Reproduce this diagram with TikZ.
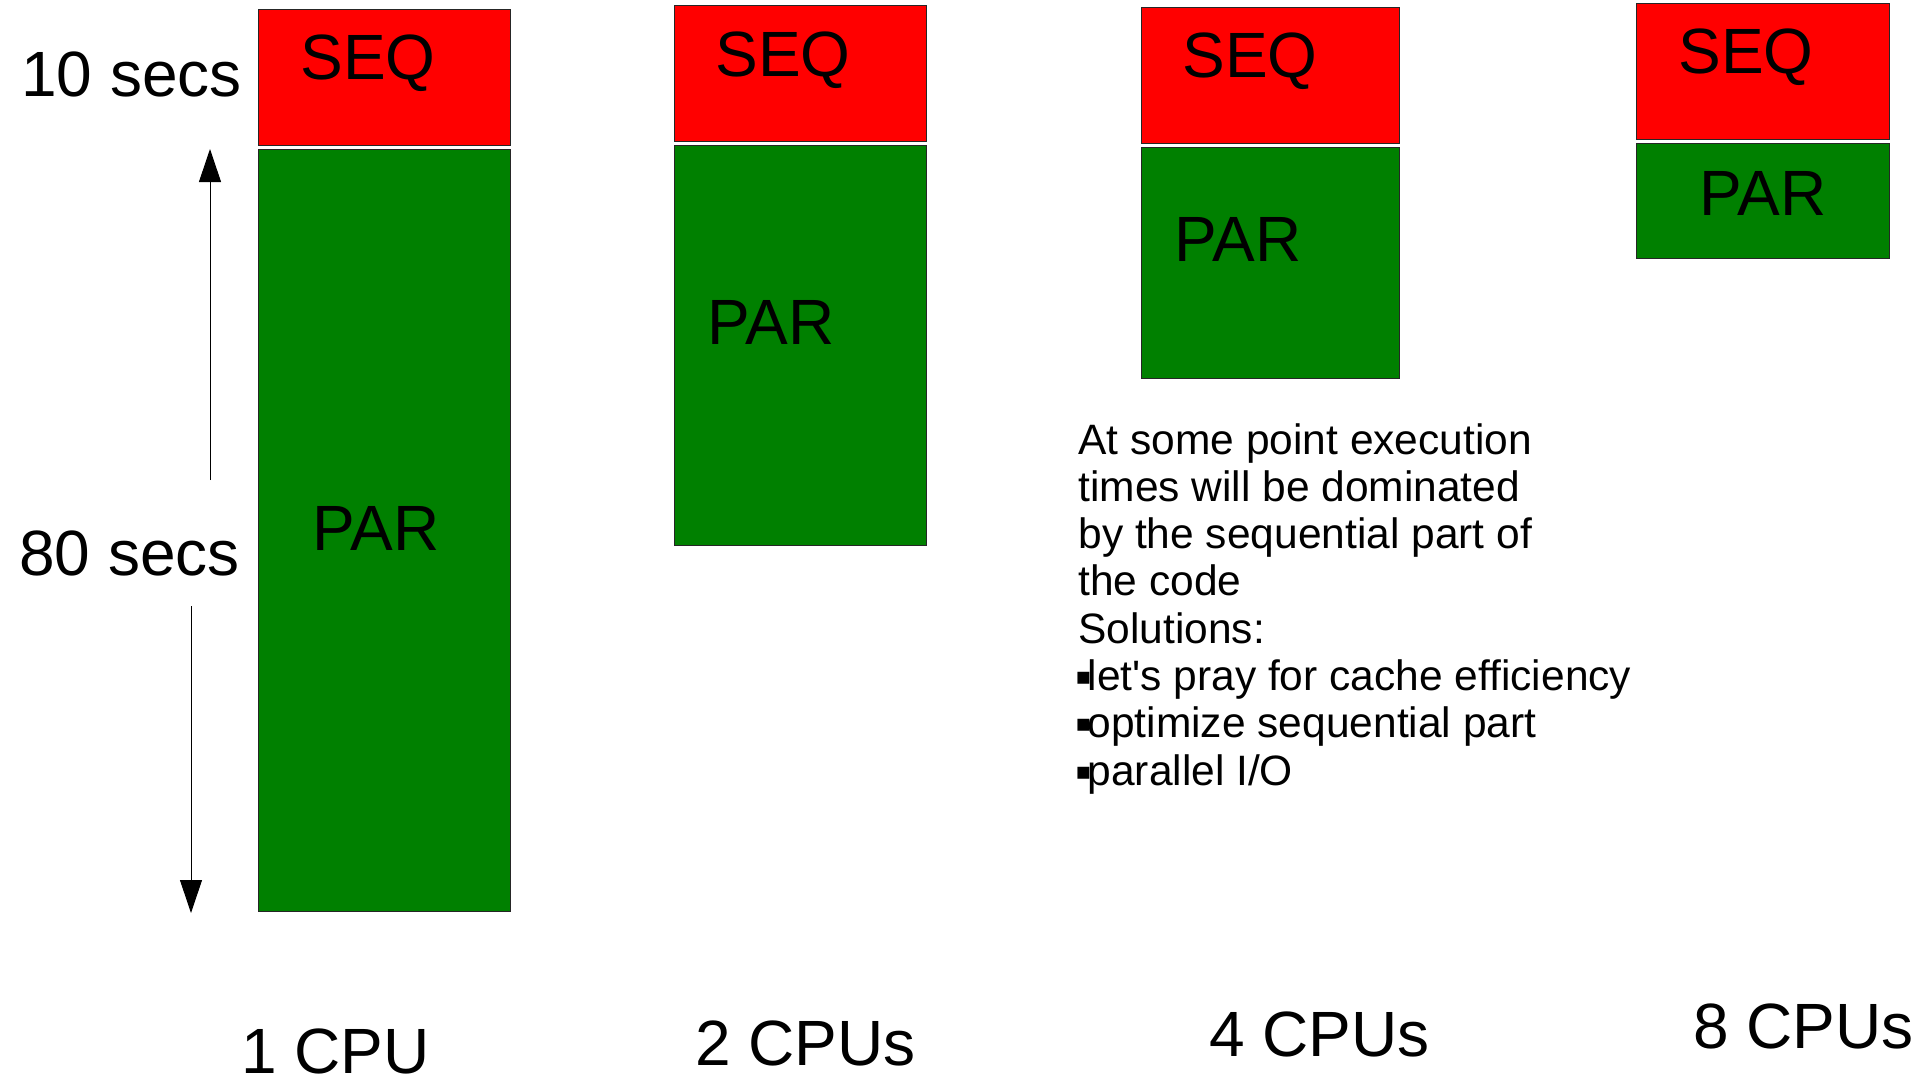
\documentclass[tikz,border=0pt]{standalone}
\usepackage{fontspec}
\setmainfont{Liberation Sans}[Ligatures=TeXOff]
\newfontfamily\symfont{DejaVu Sans}
\usetikzlibrary{arrows.meta}
\definecolor{seqred}{HTML}{FF0000}
\definecolor{pargreen}{HTML}{008000}
% small square bullet in front of the solution items
\newcommand\sqitem{\makebox[4.6pt][l]{\kern-1.5pt\raisebox{3pt}{\symfont\fontsize{12}{12}\selectfont ▪}}}
\begin{document}
\begin{tikzpicture}[x=0.5pt,y=-0.5pt,
  seqbar/.style={fill=seqred,draw=black!85,line width=0.5pt},
  parbar/.style={fill=pargreen,draw=black!85,line width=0.5pt},
  big/.style={font=\fontsize{32}{38}\selectfont,inner sep=0pt,anchor=base west},
  note/.style={font=\fontsize{21.25}{26}\selectfont,inner sep=0pt,anchor=base west},
  timearrow/.style={line width=0.5pt,-{Triangle[width=11pt,length=16.5pt]}}]
\useasboundingbox (0,0) rectangle (1929,1077);

% execution-time bars: sequential part on top, parallel part below
\path[seqbar] (258,9.5)   rectangle (510.5,145.5);
\path[parbar] (258,149)   rectangle (510.5,911.5);
\path[seqbar] (674,5.5)   rectangle (926.5,141.5);
\path[parbar] (674,145)   rectangle (926.5,545);
\path[seqbar] (1141,7.5)  rectangle (1399,143);
\path[parbar] (1141,147)  rectangle (1399,378);
\path[seqbar] (1636,3.5)  rectangle (1889,139);
\path[parbar] (1636,143)  rectangle (1889,258.5);

% bar labels
\node[big] (seqA) at (300,79.5)  {SEQ};
\node[big] (parA) at (312,550)   {PAR};
\node[big] (seqB) at (715,76)    {SEQ};
\node[big] (parB) at (707,344)   {PAR};
\node[big] (seqC) at (1182,77)   {SEQ};
\node[big] (parC) at (1174,261)  {PAR};
\node[big] (seqD) at (1678,73)   {SEQ};
\node[big] (parD) at (1699,215)  {PAR};

% time scale on the left
\node[big] (tseq) at (21,96.5) {10 secs};
\node[big] (tpar) at (19,575)  {80 secs};
\coordinate (upfrom) at (210,480);
\coordinate (upto)   at (210,149);
\coordinate (dnfrom) at (191,606);
\coordinate (dnto)   at (191,913);
\draw[timearrow] (upfrom) -- (upto);
\draw[timearrow] (dnfrom) -- (dnto);

% processor counts
\node[big] (cpu1) at (241,1073)   {1 CPU};
\node[big] (cpu2) at (695,1065.5) {2 CPUs};
\node[big] (cpu4) at (1209,1056.5){4 CPUs};
\node[big] (cpu8) at (1693,1048)  {8 CPUs};

% remark
\node[note] (l1) at (1078,454)   {At some point execution};
\node[note] (l2) at (1078,501.3) {times will be dominated};
\node[note] (l3) at (1078,548.6) {by the sequential part of};
\node[note] (l4) at (1078,595.9) {the code};
\node[note] (l5) at (1078,643.2) {Solutions:};
\node[note] (l6) at (1078,690.5) {\sqitem let's pray for cache efficiency};
\node[note] (l7) at (1078,737.8) {\sqitem optimize sequential part};
\node[note] (l8) at (1078,785.1) {\sqitem parallel I/O};
\end{tikzpicture}
\end{document}
